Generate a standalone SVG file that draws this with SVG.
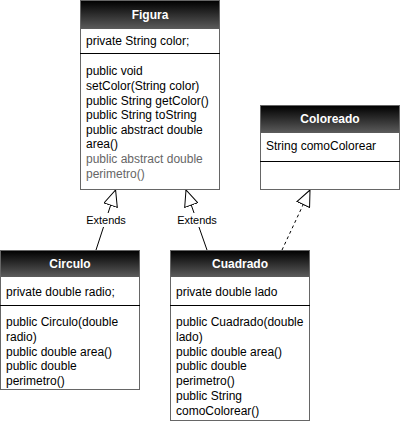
<svg xmlns="http://www.w3.org/2000/svg" width="401" height="424" viewBox="0 0 401 424">
<style>
.box{fill:#fff;stroke:#666;stroke-width:1}
.hdr{fill:url(#g)}
.div{stroke:#000;stroke-width:1}
.t{font-family:"Liberation Sans",Arial,sans-serif;font-size:12px;fill:#000}
.gray{fill:#666}
.title{font-family:"Liberation Sans",Arial,sans-serif;font-size:12px;font-weight:bold;fill:#fff;text-anchor:middle}
.conn{stroke:#000;stroke-width:1;fill:none}
.dash{stroke-dasharray:3 3}
.lbl{font-family:"Liberation Sans",Arial,sans-serif;font-size:11px;fill:#000;text-anchor:middle}
.lblbg{fill:#fff}
</style>
<defs>
<linearGradient id="g" x1="0" y1="0" x2="0" y2="1">
<stop offset="0" stop-color="#000"/>
<stop offset="1" stop-color="#5c5c5c"/>
</linearGradient>
<marker id="tri" viewBox="0 0 17 15" refX="16.5" refY="7.5" markerWidth="17" markerHeight="15" markerUnits="userSpaceOnUse" orient="auto">
<path d="M0.5,0.5 L16.5,7.5 L0.5,14.5 Z" fill="#fff" stroke="#000" stroke-width="1"/>
</marker>
</defs>
<g id="connectors">
<line class="conn" x1="96" y1="250" x2="115.6" y2="190" marker-end="url(#tri)"/>
<rect class="lblbg" x="86" y="213" width="40" height="14"/>
<text class="lbl" x="106" y="224">Extends</text>
<line class="conn" x1="207" y1="250" x2="186" y2="190" marker-end="url(#tri)"/>
<rect class="lblbg" x="177" y="213" width="40" height="14"/>
<text class="lbl" x="197" y="224">Extends</text>
<line class="conn dash" x1="282" y1="250" x2="310" y2="190" marker-end="url(#tri)"/>
</g>
<g id="Figura">
<rect class="box" x="80.5" y="0.5" width="139" height="189"/>
<rect class="hdr" x="80.5" y="0.5" width="139" height="28.5"/>
<rect x="80.5" y="0.5" width="139" height="189" fill="none" stroke="#666"/>
<text class="title" x="150" y="19.3">Figura</text>
<text class="t" x="86" y="45.3">private String color;</text>
<line class="div" x1="80" y1="53.5" x2="220" y2="53.5"/>
<text class="t" x="86" y="75.3">public void</text>
<text class="t" x="86" y="89.9">setColor(String color)</text>
<text class="t" x="86" y="104.5">public String getColor()</text>
<text class="t" x="86" y="119.1">public String toString</text>
<text class="t" x="86" y="133.7">public abstract double</text>
<text class="t" x="86" y="148.3">area()</text>
<text class="t gray" x="86" y="162.9">public abstract double</text>
<text class="t gray" x="86" y="177.5">perimetro()</text>
</g>
<g id="Coloreado">
<rect class="box" x="260.5" y="105.5" width="139" height="84"/>
<rect class="hdr" x="260.5" y="105.5" width="139" height="27.5"/>
<rect x="260.5" y="105.5" width="139" height="84" fill="none" stroke="#666"/>
<text class="title" x="330" y="123.3">Coloreado</text>
<text class="t" x="266" y="150.3">String comoColorear</text>
<line class="div" x1="260" y1="161.5" x2="400" y2="161.5"/>
</g>
<g id="Circulo">
<rect class="box" x="0.5" y="250.5" width="139" height="139"/>
<rect class="hdr" x="0.5" y="250.5" width="139" height="26.5"/>
<rect x="0.5" y="250.5" width="139" height="139" fill="none" stroke="#666"/>
<text class="title" x="70" y="267.8">Circulo</text>
<text class="t" x="6" y="296.3">private double radio;</text>
<line class="div" x1="0" y1="305.5" x2="140" y2="305.5"/>
<text class="t" x="6" y="326.3">public Circulo(double</text>
<text class="t" x="6" y="341">radio)</text>
<text class="t" x="6" y="355.7">public double area()</text>
<text class="t" x="6" y="370.4">public double</text>
<text class="t" x="6" y="385.1">perimetro()</text>
</g>
<g id="Cuadrado">
<rect class="box" x="170.5" y="250.5" width="139" height="170"/>
<rect class="hdr" x="170.5" y="250.5" width="139" height="26.5"/>
<rect x="170.5" y="250.5" width="139" height="170" fill="none" stroke="#666"/>
<text class="title" x="240" y="267.8">Cuadrado</text>
<text class="t" x="176" y="296.3">private double lado</text>
<line class="div" x1="170" y1="305.5" x2="310" y2="305.5"/>
<text class="t" x="176" y="326.3">public Cuadrado(double</text>
<text class="t" x="176" y="341">lado)</text>
<text class="t" x="176" y="355.7">public double area()</text>
<text class="t" x="176" y="370.4">public double</text>
<text class="t" x="176" y="385.1">perimetro()</text>
<text class="t" x="176" y="399.8">public String</text>
<text class="t" x="176" y="414.5">comoColorear()</text>
</g>
</svg>
